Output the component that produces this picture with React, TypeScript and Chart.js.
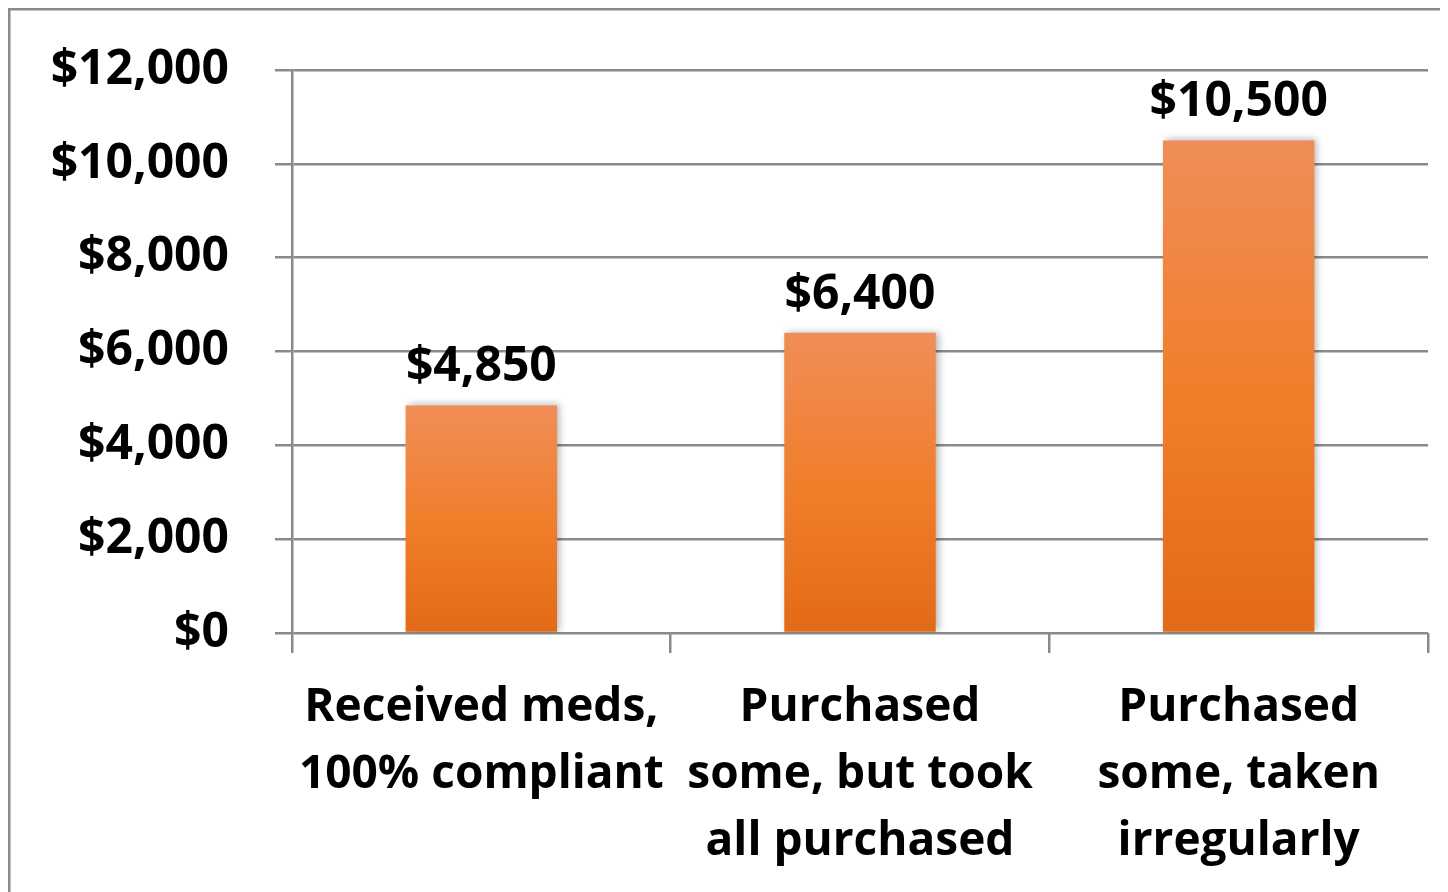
import React, { useEffect, useRef } from "react";
import { Chart, registerables } from "chart.js";

Chart.register(...registerables);

const categories: string[][] = [
  ["Received meds,", "100% compliant"],
  ["Purchased", "some, but took", "all purchased"],
  ["Purchased", "some, taken", "irregularly"],
];
const costs: number[] = [4850, 6400, 10500];
const yTicks: number[] = [0, 2000, 4000, 6000, 8000, 10000, 12000];

const FONT = "'Open Sans', 'DejaVu Sans', sans-serif";
const W = 1437;
const H = 884;
const fmt = (v: number) => "$" + v.toLocaleString("en-US");

export default function App() {
  const ref = useRef<HTMLCanvasElement | null>(null);
  useEffect(() => {
    if (!ref.current) return;
    const borderPlugin = {
      id: "frame",
      afterDraw(chart: any) {
        const ctx = chart.ctx;
        ctx.save();
        ctx.strokeStyle = "#8a8a8a";
        ctx.lineWidth = 2.5;
        ctx.beginPath();
        ctx.moveTo(1.25, H);
        ctx.lineTo(1.25, 1.25);
        ctx.lineTo(W - 1.25, 1.25);
        ctx.lineTo(W - 1.25, H);
        ctx.stroke();
        ctx.restore();
      },
    };
    const shadowPlugin = {
      id: "barShadow",
      beforeDatasetsDraw(chart: any) {
        const ctx = chart.ctx;
        ctx.save();
        ctx.shadowColor = "rgba(0,0,0,0.28)";
        ctx.shadowBlur = 7;
        ctx.shadowOffsetX = 3;
        ctx.shadowOffsetY = -1;
      },
      afterDatasetsDraw(chart: any) {
        chart.ctx.restore();
        const ctx = chart.ctx;
        const meta = chart.getDatasetMeta(0);
        ctx.save();
        ctx.fillStyle = "#000";
        ctx.font = `bold 48px ${FONT}`;
        ctx.textAlign = "center";
        ctx.textBaseline = "alphabetic";
        meta.data.forEach((bar: any, i: number) => {
          ctx.fillText(fmt(costs[i]), bar.x, bar.y - 24);
        });
        ctx.restore();
      },
    };
    const chart = new Chart(ref.current, {
      type: "bar",
      data: {
        labels: categories,
        datasets: [
          {
            data: costs,
            borderWidth: 0,
            categoryPercentage: 0.4,
            barPercentage: 1,
            backgroundColor: (c: any) => {
              const ch = c.chart;
              const ys = ch.scales?.y;
              if (!ys || !c.parsed) return "#EE7A2E";
              const top = ys.getPixelForValue(c.parsed.y);
              const bottom = ys.getPixelForValue(0);
              if (!Number.isFinite(top) || !Number.isFinite(bottom) || top === bottom) return "#EE7A2E";
              const g = ch.ctx.createLinearGradient(0, top, 0, bottom);
              g.addColorStop(0, "#F08D58");
              g.addColorStop(0.5, "#F07F2C");
              g.addColorStop(1, "#E36A16");
              return g;
            },
          },
        ],
      },
      options: {
        responsive: false,
        animation: false,
        layout: { padding: { top: 62, right: 17, left: 0, bottom: 0 } },
        plugins: { legend: { display: false }, tooltip: { enabled: false } },
        scales: {
          x: {
            offset: true,
            grid: {
              offset: true,
              drawOnChartArea: false,
              drawTicks: true,
              tickLength: 20,
              color: "#8a8a8a",
              lineWidth: 2.5,
            },
            border: { display: false },
            ticks: {
              color: "#000",
              font: { family: FONT, size: 46, weight: "bold", lineHeight: 1.45 },
              padding: 22,
              maxRotation: 0,
              minRotation: 0,
              autoSkip: false,
            },
            afterFit: (s: any) => {
              s.height = H - 625;
              s.paddingLeft = 0;
              s.paddingRight = 0;
            },
          },
          y: {
            min: 0,
            max: 12000,
            afterBuildTicks: (s: any) => {
              s.ticks = yTicks.map((v) => ({ value: v }));
            },
            grid: {
              color: "#8a8a8a",
              lineWidth: 2.5,
              tickLength: 17,
            },
            border: { display: true, color: "#8a8a8a", width: 2.5 },
            ticks: {
              color: "#000",
              font: { family: FONT, size: 48, weight: "bold" },
              padding: 46,
              callback: (v: any) => fmt(Number(v)),
            },
            afterFit: (s: any) => {
              s.width = 284;
              s.paddingTop = 0;
              s.paddingBottom = 0;
            },
          },
        },
      },
      plugins: [shadowPlugin, borderPlugin],
    });
    return () => chart.destroy();
  }, []);
  return (
    <div style={{ width: W, height: H }}>
      <canvas ref={ref} width={W} height={H} style={{ display: "block", width: W, height: H }} />
    </div>
  );
}
